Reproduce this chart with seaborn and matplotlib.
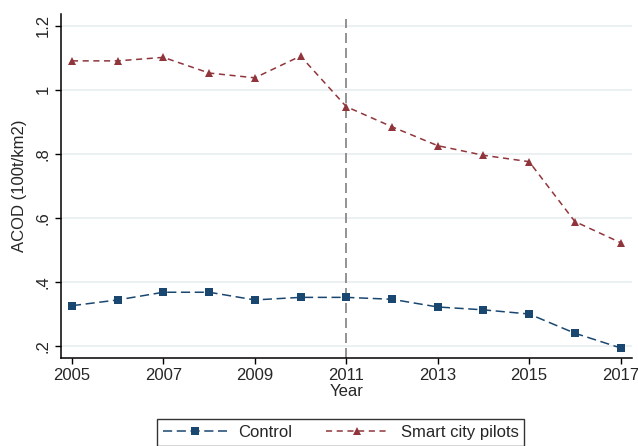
import matplotlib
matplotlib.use("Agg")
import matplotlib.pyplot as plt
import seaborn as sns
import pandas as pd

years = list(range(2005, 2018))
control = [0.325, 0.343, 0.367, 0.367, 0.343, 0.351, 0.351, 0.345, 0.321, 0.312, 0.299, 0.239, 0.193]
smart_city = [1.090, 1.090, 1.101, 1.052, 1.037, 1.105, 0.947, 0.884, 0.825, 0.795, 0.775, 0.588, 0.522]
series_names = ["Control", "Smart city pilots"]
x_ticks = [2005, 2007, 2009, 2011, 2013, 2015, 2017]
y_ticks = [0.2, 0.4, 0.6, 0.8, 1.0, 1.2]
y_tick_labels = [".2", ".4", ".6", ".8", "1", "1.2"]
policy_year = 2011

df = pd.DataFrame({
    "Year": years * 2,
    "ACOD": control + smart_city,
    "Group": [series_names[0]] * len(years) + [series_names[1]] * len(years),
})

sns.set_theme(style="white")
plt.rcParams["font.family"] = ["Liberation Sans", "DejaVu Sans"]

fig = plt.figure(figsize=(6.38, 4.46), dpi=100)
ax = fig.add_axes([0.0956, 0.198, 0.895, 0.771])

palette = {series_names[0]: "#1a476f", series_names[1]: "#90353b"}
sns.lineplot(
    data=df, x="Year", y="ACOD", hue="Group", style="Group",
    palette=palette,
    markers={series_names[0]: "s", series_names[1]: "^"},
    dashes={series_names[0]: (6, 3), series_names[1]: (4, 3)},
    markersize=5.5, markeredgewidth=0, linewidth=1.1, ax=ax, legend=True,
)

ax.axvline(policy_year, ymin=0, ymax=0.985, color="#808080",
           linestyle=(0, (6, 3)), linewidth=1.2, zorder=1)

ax.set_xlim(2004.76, 2017.25)
ax.set_ylim(0.1625, 1.237)
ax.set_xticks(x_ticks)
ax.set_yticks(y_ticks)
ax.set_yticklabels(y_tick_labels, rotation=90, va="center")
ax.tick_params(axis="both", which="major", direction="out", length=4,
               width=1, color="black", labelsize=12, left=True, bottom=True)

ax.grid(axis="y", color="#e8eff1", linewidth=1.2)
ax.set_axisbelow(True)
for side in ["top", "right"]:
    ax.spines[side].set_visible(False)
for side in ["left", "bottom"]:
    ax.spines[side].set_color("black")
    ax.spines[side].set_linewidth(1.1)

ax.set_xlabel("Year", fontsize=12, labelpad=1)
ax.set_ylabel("ACOD (100t/km2)", fontsize=12, labelpad=6)

handles, labels = ax.get_legend_handles_labels()
ax.legend(handles, labels, loc="upper center", bbox_to_anchor=(0.49, -0.155),
          ncol=2, frameon=True, fancybox=False, edgecolor="black",
          fontsize=12, handlelength=3.8, numpoints=1, columnspacing=2.0,
          borderpad=0.35, handletextpad=0.7)
leg = ax.get_legend()
leg.get_frame().set_linewidth(1.0)

fig.savefig("out.png", dpi=100, facecolor="white")
